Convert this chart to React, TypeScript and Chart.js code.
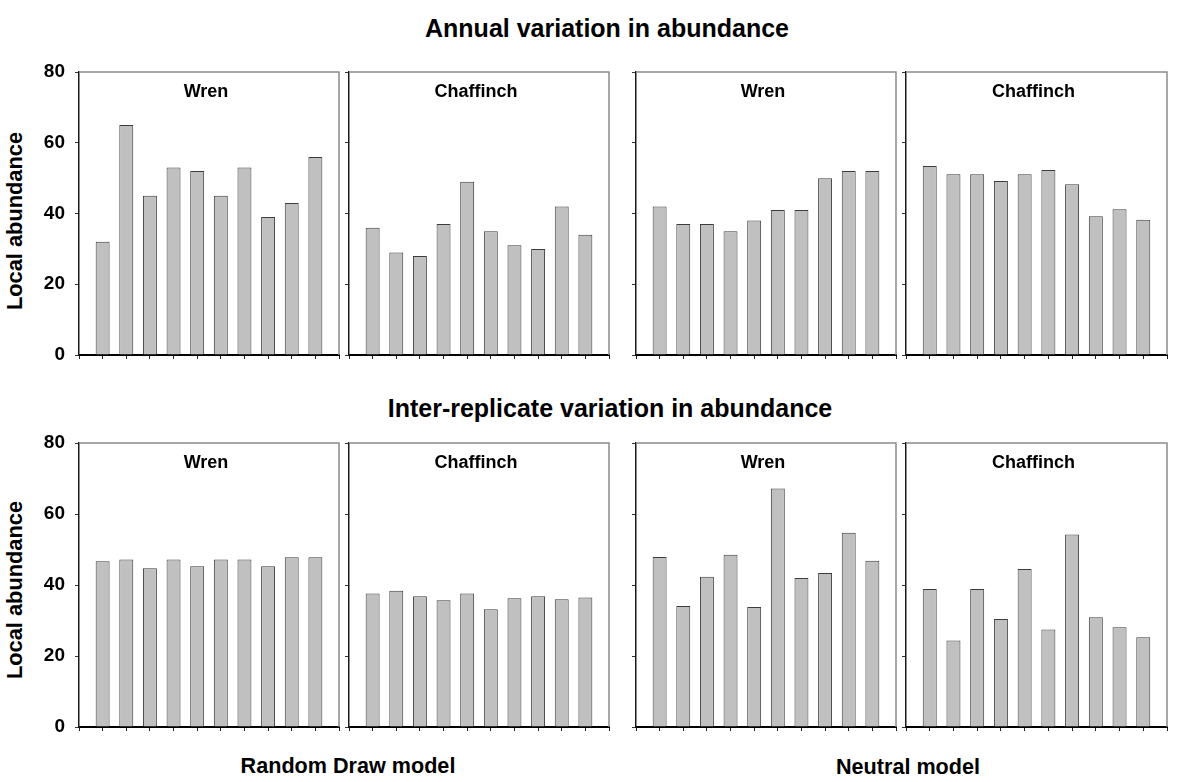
import React, { useEffect, useRef } from 'react';
import { Chart, registerables } from 'chart.js';

Chart.register(...registerables);

// ---------- data ----------
const years = ['1', '2', '3', '4', '5', '6', '7', '8', '9', '10'];
const yTickStep = 20;
const yMin = 0;
const yMax = 80;

const annualRandomWren = [32, 65, 45, 53, 52, 45, 53, 39, 43, 56];
const annualRandomChaffinch = [36, 29, 28, 37, 49, 35, 31, 30, 42, 34];
const annualNeutralWren = [42, 37, 37, 35, 38, 41, 41, 50, 52, 52];
const annualNeutralChaffinch = [53.4, 51.1, 51.1, 49.2, 51.1, 52.3, 48.3, 39.2, 41.2, 38.2];

const interRandomWren = [46.7, 47.2, 44.7, 47.2, 45.3, 47.2, 47.2, 45.3, 47.8, 47.8];
const interRandomChaffinch = [37.6, 38.4, 36.8, 35.7, 37.6, 33.2, 36.3, 36.8, 36.0, 36.5];
const interNeutralWren = [47.9, 34.1, 42.3, 48.5, 33.8, 67.2, 42.0, 43.4, 54.7, 46.8];
const interNeutralChaffinch = [38.9, 24.4, 38.9, 30.4, 44.5, 27.5, 54.2, 30.9, 28.1, 25.3];

const rowTitles = ['Annual variation in abundance', 'Inter-replicate variation in abundance'];
const modelLabels = ['Random Draw model', 'Neutral model'];
const yAxisTitle = 'Local abundance';

const FONT = '"Liberation Sans", Arial, Helvetica, sans-serif';

// ---------- layout ----------
const colLeft = [79, 349, 636, 906];
const colRight = [339, 609, 896, 1167];
const rowTop = [72, 443];
const rowBottom = [355, 727];

type Spec = {
  title: string;
  values: number[];
  col: number;
  row: number;
};

const panels: Spec[] = [
  { title: 'Wren', values: annualRandomWren, col: 0, row: 0 },
  { title: 'Chaffinch', values: annualRandomChaffinch, col: 1, row: 0 },
  { title: 'Wren', values: annualNeutralWren, col: 2, row: 0 },
  { title: 'Chaffinch', values: annualNeutralChaffinch, col: 3, row: 0 },
  { title: 'Wren', values: interRandomWren, col: 0, row: 1 },
  { title: 'Chaffinch', values: interRandomChaffinch, col: 1, row: 1 },
  { title: 'Wren', values: interNeutralWren, col: 2, row: 1 },
  { title: 'Chaffinch', values: interNeutralChaffinch, col: 3, row: 1 },
];

const framePlugin = {
  id: 'panelFrame',
  afterDatasetsDraw(chart: any, _args: any, opts: any) {
    const { ctx, chartArea } = chart;
    const { left, top, right, bottom } = chartArea;
    ctx.save();
    ctx.strokeStyle = '#8c8c8c';
    ctx.lineWidth = 1.5;
    ctx.beginPath();
    ctx.moveTo(left, top);
    ctx.lineTo(right, top);
    ctx.lineTo(right, bottom);
    ctx.stroke();
    if (opts && opts.text) {
      ctx.fillStyle = '#000';
      ctx.font = `bold 18px ${FONT}`;
      ctx.textAlign = 'center';
      ctx.textBaseline = 'middle';
      ctx.fillText(opts.text, (left + right) / 2 - 3, top + 20);
    }
    ctx.restore();
  },
};

function Panel({ spec }: { spec: Spec }) {
  const ref = useRef<HTMLCanvasElement>(null);
  const showY = spec.col === 0;
  const L = colLeft[spec.col];
  const R = colRight[spec.col];
  const T = rowTop[spec.row];
  const B = rowBottom[spec.row];
  const yAxisW = showY ? 50 : 8;
  const padTop = 14;
  const padRight = 8;
  const xAxisH = 8;
  const width = R - L + yAxisW + padRight;
  const height = B - T + padTop + xAxisH;

  useEffect(() => {
    const labels = ['', ...years, ' '];
    const data: (number | null)[] = [null, ...spec.values, null];
    const chart = new Chart(ref.current as HTMLCanvasElement, {
      type: 'bar',
      data: {
        labels,
        datasets: [
          {
            data,
            backgroundColor: '#c0c0c0',
            borderColor: '#3c3c3c',
            borderWidth: 1,
            categoryPercentage: 1,
            barPercentage: 0.59,
          } as any,
        ],
      },
      options: {
        animation: false,
        responsive: false,
        events: [],
        layout: { padding: { top: padTop, right: padRight, left: 0, bottom: 0 } },
        plugins: {
          legend: { display: false },
          tooltip: { enabled: false },
          panelFrame: { text: spec.title },
        } as any,
        scales: {
          x: {
            type: 'category',
            offset: false,
            grid: {
              display: true,
              offset: false,
              drawOnChartArea: false,
              drawTicks: true,
              tickLength: 4,
              color: '#222',
            },
            border: { display: true, color: '#000', width: 2 },
            ticks: { display: false },
            afterFit: (s: any) => {
              s.height = xAxisH;
              s.paddingLeft = 0;
              s.paddingRight = 0;
              s.paddingTop = 0;
              s.paddingBottom = 0;
            },
          },
          y: {
            min: yMin,
            max: yMax,
            ticks: {
              display: showY,
              stepSize: yTickStep,
              color: '#000',
              padding: 10,
              font: { family: FONT, size: 19, weight: 'bold' },
            },
            grid: {
              display: true,
              drawOnChartArea: false,
              drawTicks: true,
              tickLength: 4,
              color: '#333',
            },
            border: { display: true, color: '#1a1a1a', width: 1.5 },
            afterFit: (s: any) => {
              s.width = yAxisW;
              s.paddingTop = 0;
              s.paddingBottom = 0;
              s.paddingLeft = 0;
              s.paddingRight = 0;
            },
          },
        } as any,
      },
      plugins: [framePlugin],
    });
    return () => chart.destroy();
  }, []);

  return (
    <canvas
      ref={ref}
      width={width}
      height={height}
      style={{
        position: 'absolute',
        left: L - yAxisW,
        top: T - padTop,
        width,
        height,
      }}
    />
  );
}

const textStyle: React.CSSProperties = {
  position: 'absolute',
  fontFamily: FONT,
  fontWeight: 'bold',
  color: '#000',
  whiteSpace: 'nowrap',
  transform: 'translate(-50%, -50%)',
  lineHeight: 1,
};

export default function App() {
  return (
    <div
      style={{
        position: 'fixed',
        left: 0,
        top: 0,
        width: 1198,
        height: 782,
        background: '#fff',
        overflow: 'hidden',
      }}
    >
      <div style={{ ...textStyle, left: 607, top: 28, fontSize: 25 }}>{rowTitles[0]}</div>
      <div style={{ ...textStyle, left: 610, top: 408, fontSize: 25 }}>{rowTitles[1]}</div>
      <div style={{ ...textStyle, left: 348, top: 766, fontSize: 21.6 }}>{modelLabels[0]}</div>
      <div style={{ ...textStyle, left: 908, top: 767, fontSize: 21.6 }}>{modelLabels[1]}</div>
      <div
        style={{
          ...textStyle,
          left: 15,
          top: 221,
          fontSize: 21.8,
          transform: 'translate(-50%, -50%) rotate(-90deg)',
        }}
      >
        {yAxisTitle}
      </div>
      <div
        style={{
          ...textStyle,
          left: 15,
          top: 590,
          fontSize: 21.8,
          transform: 'translate(-50%, -50%) rotate(-90deg)',
        }}
      >
        {yAxisTitle}
      </div>
      {panels.map((p, i) => (
        <Panel key={i} spec={p} />
      ))}
    </div>
  );
}
